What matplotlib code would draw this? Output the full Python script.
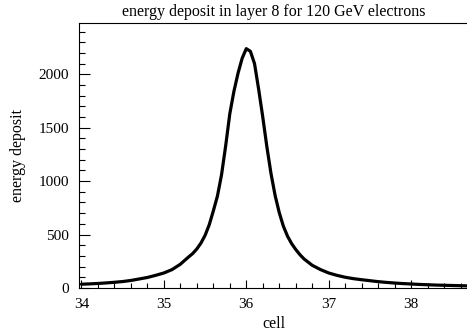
import matplotlib
matplotlib.use('Agg')
import matplotlib.pyplot as plt
from matplotlib.ticker import MultipleLocator

# energy deposit profile across cells
cell = [34.0, 34.1, 34.2, 34.3, 34.4, 34.5, 34.6, 34.7, 34.8, 34.9,
        35.0, 35.1, 35.2, 35.3, 35.35, 35.4, 35.45, 35.5, 35.55, 35.6,
        35.65, 35.7, 35.75, 35.8, 35.85, 35.9, 35.95, 36.0, 36.05, 36.1,
        36.15, 36.2, 36.25, 36.3, 36.35, 36.4, 36.45, 36.5, 36.55, 36.6,
        36.65, 36.7, 36.8, 36.9, 37.0, 37.1, 37.2, 37.3, 37.4, 37.5,
        37.6, 37.7, 37.8, 37.9, 38.0, 38.1, 38.2, 38.3, 38.4, 38.5,
        38.6, 38.7]
energy = [35, 38, 42, 47, 53, 60, 70, 84, 98, 118,
          140, 172, 222, 290, 322, 365, 420, 492, 590, 720,
          860, 1060, 1330, 1630, 1840, 2010, 2150, 2240, 2215, 2100,
          1860, 1600, 1320, 1070, 865, 705, 578, 485, 415, 360,
          312, 272, 212, 172, 140, 118, 100, 87, 77, 68,
          59, 52, 46, 41, 37, 33, 30, 27, 25, 23,
          21, 19]

plt.rcParams['font.family'] = ['Liberation Serif', 'DejaVu Serif']

fig = plt.figure(figsize=(4.67, 3.36), dpi=100)
ax = fig.add_axes([0.169, 0.143, 0.835, 0.7885])

ax.plot(cell, energy, color='black', linewidth=2.3,
        solid_joinstyle='round', solid_capstyle='round')

ax.set_xlim(33.97, 38.7)
ax.set_ylim(0, 2480)
ax.xaxis.set_major_locator(MultipleLocator(1))
ax.xaxis.set_minor_locator(MultipleLocator(0.2))
ax.yaxis.set_major_locator(MultipleLocator(500))
ax.yaxis.set_minor_locator(MultipleLocator(100))

ax.tick_params(axis='both', which='both', direction='in', width=0.8,
               labelsize=11, top=False, right=False)
ax.tick_params(axis='y', which='major', length=8, pad=7)
ax.tick_params(axis='y', which='minor', length=4.3)
ax.tick_params(axis='x', which='major', length=6, pad=7)
ax.tick_params(axis='x', which='minor', length=3.6)

for side in ['left', 'bottom', 'top']:
    ax.spines[side].set_linewidth(0.8)
ax.spines['right'].set_visible(False)

ax.set_title('energy deposit in layer 8 for 120 GeV electrons', fontsize=11.5, pad=5)
ax.set_xlabel('cell', fontsize=11.5, labelpad=4)
ax.set_ylabel('energy deposit', fontsize=11.5, labelpad=9)

fig.savefig('out.png', dpi=100)
